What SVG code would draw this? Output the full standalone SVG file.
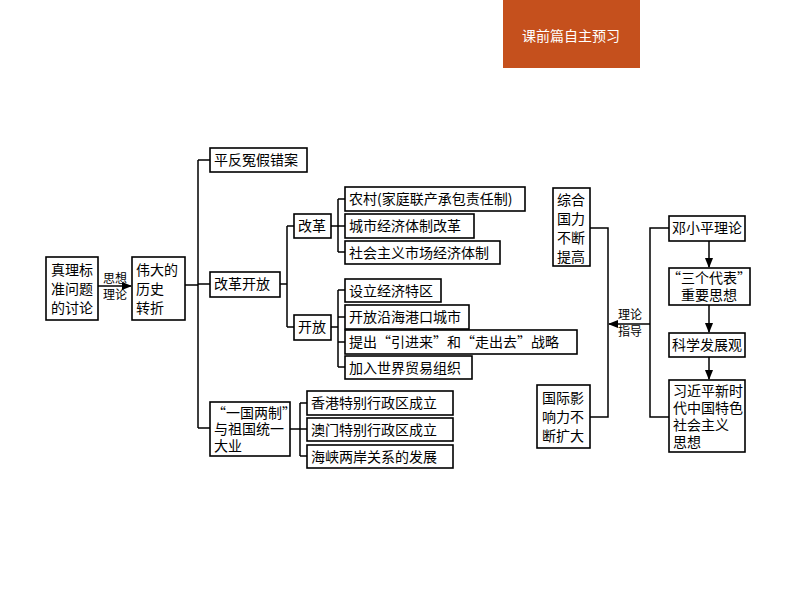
<svg xmlns="http://www.w3.org/2000/svg" width="794" height="596" viewBox="0 0 794 596">
<defs>
<style>
.b{fill:#fff;stroke:#000;stroke-width:1.6}
.l{fill:none;stroke:#000;stroke-width:1.5}
text{font-family:"Noto Sans CJK SC","Noto Sans",sans-serif;font-size:14px;fill:#000}
.s{font-size:12px}
</style>
<marker id="a" viewBox="0 0 10 10" refX="9" refY="5" markerWidth="7" markerHeight="7" orient="auto"><path d="M0,1 L10,5 L0,9 z" fill="#000"/></marker>
</defs>
<rect width="794" height="596" fill="#fff"/>
<g id="banner"><rect x="503" y="0" width="137" height="68" fill="#c5501d"/><text x="571" y="41" text-anchor="middle" style="fill:#fff;font-size:14px">课前篇自主预习</text></g>
<g id="connectors">
<path class="l" d="M98,286 H131" marker-end="url(#a)"/>
<path class="l" d="M185,285 H198 M198,160 V428 M198,160 H210 M198,284 H210 M198,428 H210"/>
<path class="l" d="M280,284 H287 M287,226 V327 M287,226 H294 M287,327 H294"/>
<path class="l" d="M331,226 H345 M338,199 V252 M338,199 H345 M338,252 H345"/>
<path class="l" d="M331,327 H338 M338,290 V367 M338,290 H345 M338,317 H345 M338,342 H345 M338,367 H345"/>
<path class="l" d="M290,429 H307 M300,403 V456 M300,403 H307 M300,456 H307"/>
<path class="l" d="M590,228 H608 V417 H590"/>
<path class="l" d="M669,228 H650 V417 H669"/>
<path class="l" d="M650,324 H609" marker-end="url(#a)"/>
<path class="l" d="M709,241 V267" marker-end="url(#a)"/>
<path class="l" d="M709,305 V332" marker-end="url(#a)"/>
<path class="l" d="M709,357 V379" marker-end="url(#a)"/>
</g>
<g id="labels"><text class="s" x="115" y="283" text-anchor="middle">思想</text><text class="s" x="115" y="299" text-anchor="middle">理论</text>
<text class="s" x="630" y="319" text-anchor="middle">理论</text><text class="s" x="630" y="336" text-anchor="middle">指导</text></g>
<g id="n1"><rect class="b" x="46" y="257" width="52" height="63"/><text x="72" y="275" text-anchor="middle">真理标</text><text x="72" y="294" text-anchor="middle">准问题</text><text x="72" y="313" text-anchor="middle">的讨论</text></g>
<g id="n2"><rect class="b" x="132" y="257" width="53" height="63"/><text x="136" y="275">伟大的</text><text x="136" y="294">历史</text><text x="136" y="313">转折</text></g>
<g id="n3"><rect class="b" x="210" y="148" width="97" height="24"/><text x="214" y="165">平反冤假错案</text></g>
<g id="n4"><rect class="b" x="210" y="272" width="70" height="25"/><text x="214" y="289">改革开放</text></g>
<g id="n5"><rect class="b" x="210" y="402" width="80" height="54"/><text x="212" y="418">“一国两制”</text><text x="214" y="434">与祖国统一</text><text x="214" y="451">大业</text></g>
<g id="n6"><rect class="b" x="294" y="214" width="37" height="24"/><text x="298" y="231">改革</text></g>
<g id="n7"><rect class="b" x="294" y="315" width="37" height="25"/><text x="298" y="332">开放</text></g>
<g id="n8"><rect class="b" x="345" y="187" width="180" height="24"/><text x="349" y="204">农村(家庭联产承包责任制)</text></g>
<g id="n9"><rect class="b" x="345" y="214" width="129" height="24"/><text x="349" y="231">城市经济体制改革</text></g>
<g id="n10"><rect class="b" x="345" y="241" width="155" height="23"/><text x="349" y="258">社会主义市场经济体制</text></g>
<g id="n11"><rect class="b" x="345" y="279" width="96" height="23"/><text x="349" y="296">设立经济特区</text></g>
<g id="n12"><rect class="b" x="345" y="305" width="124" height="24"/><text x="349" y="322">开放沿海港口城市</text></g>
<g id="n13"><rect class="b" x="345" y="330" width="232" height="24"/><text x="349" y="347">提出“引进来”和“走出去”战略</text></g>
<g id="n14"><rect class="b" x="345" y="356" width="127" height="23"/><text x="349" y="373">加入世界贸易组织</text></g>
<g id="n15"><rect class="b" x="307" y="391" width="146" height="24"/><text x="311" y="408">香港特别行政区成立</text></g>
<g id="n16"><rect class="b" x="307" y="418" width="146" height="23"/><text x="311" y="435">澳门特别行政区成立</text></g>
<g id="n17"><rect class="b" x="307" y="445" width="146" height="23"/><text x="311" y="462">海峡两岸关系的发展</text></g>
<g id="n18"><rect class="b" x="553" y="188" width="37" height="78"/><text x="571" y="205" text-anchor="middle">综合</text><text x="571" y="224" text-anchor="middle">国力</text><text x="571" y="243" text-anchor="middle">不断</text><text x="571" y="262" text-anchor="middle">提高</text></g>
<g id="n19"><rect class="b" x="537" y="385" width="53" height="63"/><text x="563" y="403" text-anchor="middle">国际影</text><text x="563" y="422" text-anchor="middle">响力不</text><text x="563" y="441" text-anchor="middle">断扩大</text></g>
<g id="n20"><rect class="b" x="669" y="216" width="76" height="25"/><text x="707" y="233" text-anchor="middle">邓小平理论</text></g>
<g id="n21"><rect class="b" x="669" y="268" width="81" height="37"/><text x="709" y="283" text-anchor="middle">“三个代表”</text><text x="709" y="300" text-anchor="middle">重要思想</text></g>
<g id="n22"><rect class="b" x="669" y="333" width="76" height="24"/><text x="707" y="350" text-anchor="middle">科学发展观</text></g>
<g id="n23"><rect class="b" x="669" y="380" width="76" height="72"/><text x="673" y="396">习近平新时</text><text x="673" y="413">代中国特色</text><text x="673" y="430">社会主义</text><text x="673" y="447">思想</text></g>
</svg>
